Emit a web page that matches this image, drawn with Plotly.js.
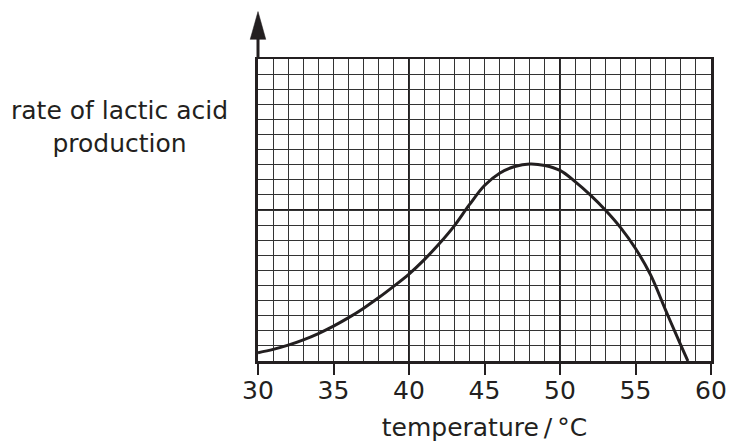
<!DOCTYPE html>
<html>
<head>
<meta charset="utf-8">
<script src="https://cdn.plot.ly/plotly-3.0.1.min.js"></script>
<style>
  html, body { margin: 0; padding: 0; background: #fff; }
  #chart { width: 729px; height: 442px; }
</style>
</head>
<body>
<div id="chart"></div>
<script>
// temperature (°C)
const temperature = [30, 31, 32, 33, 34, 35, 36, 37, 38, 39, 40, 41, 42, 43, 44, 45, 46, 47, 48, 49, 50, 51, 52, 53, 54, 55, 56, 57, 58, 58.47];
// rate of lactic acid production (grid units, arbitrary)
const rate = [0.55, 0.77, 1.05, 1.4, 1.82, 2.31, 2.87, 3.5, 4.2, 4.96, 5.76, 6.7, 7.76, 8.95, 10.35, 11.62, 12.44, 12.88, 13.05, 12.95, 12.62, 11.88, 11.0, 10.0, 8.85, 7.45, 5.7, 3.35, 1.05, 0];
const xTickVals = [30, 35, 40, 45, 50, 55, 60];
const xTickText = ['30', '35', '40', '45', '50', '55', '60'];
const heavyX = [40, 50];
const heavyY = [10];
const xTitle = 'temperature\u2009/\u2009°C';
const yTitle = 'rate of lactic acid<br>production';

const ink = '#231f20';
const FONT = 'DejaVu Sans, Liberation Sans, Arial, sans-serif';

const trace = {
  x: temperature,
  y: rate,
  type: 'scatter',
  mode: 'lines',
  line: { color: ink, width: 3, shape: 'spline', smoothing: 1 },
  hoverinfo: 'skip'
};

const shapes = [];
heavyX.forEach(v => shapes.push({
  type: 'line', xref: 'x', yref: 'paper', x0: v, x1: v, y0: 0, y1: 1,
  line: { color: ink, width: 2 }, layer: 'below'
}));
heavyY.forEach(v => shapes.push({
  type: 'line', xref: 'paper', yref: 'y', x0: 0, x1: 1, y0: v, y1: v,
  line: { color: ink, width: 2 }, layer: 'below'
}));
// arrow on the vertical axis
shapes.push({
  type: 'line', xref: 'paper', yref: 'paper', x0: 0, x1: 0, y0: 1, y1: 1.075,
  line: { color: ink, width: 3 }
});
shapes.push({
  type: 'path', xref: 'paper', yref: 'paper',
  path: 'M -0.0172,1.065 L 0,1.157 L 0.0172,1.065 Z',
  fillcolor: ink, line: { color: ink, width: 0.5 }
});

const layout = {
  width: 729, height: 442,
  margin: { l: 258, r: 18, t: 59, b: 81, pad: 0 },
  paper_bgcolor: '#fff', plot_bgcolor: '#fff',
  showlegend: false,
  font: { family: FONT, color: ink, size: 25 },
  xaxis: {
    range: [30, 60], fixedrange: true,
    tickmode: 'array', tickvals: xTickVals, ticktext: xTickText,
    ticks: 'outside', ticklen: 11, tickwidth: 2, tickcolor: ink,
    ticklabelstandoff: -6,
    tickfont: { family: FONT, size: 25, color: ink },
    showgrid: true, gridcolor: '#333333', gridwidth: 1,
    minor: { dtick: 1, showgrid: true, gridcolor: '#333333', gridwidth: 1, ticks: '' },
    showline: true, linecolor: ink, linewidth: 2.5, mirror: true,
    zeroline: false,
    title: { text: xTitle, font: { family: FONT, size: 25, color: ink }, standoff: 16 }
  },
  yaxis: {
    range: [0, 20], fixedrange: true,
    dtick: 1, showticklabels: false, ticks: '',
    showgrid: true, gridcolor: '#333333', gridwidth: 1,
    showline: true, linecolor: ink, linewidth: 3, mirror: true,
    zeroline: false
  },
  shapes: shapes,
  annotations: [{
    xref: 'paper', yref: 'paper',
    x: -0.305, y: 0.775, xanchor: 'center', yanchor: 'middle',
    text: yTitle, showarrow: false, align: 'center',
    font: { family: FONT, size: 25, color: ink }
  }]
};

Plotly.newPlot('chart', [trace], layout, { staticPlot: true, displayModeBar: false });
</script>
</body>
</html>
